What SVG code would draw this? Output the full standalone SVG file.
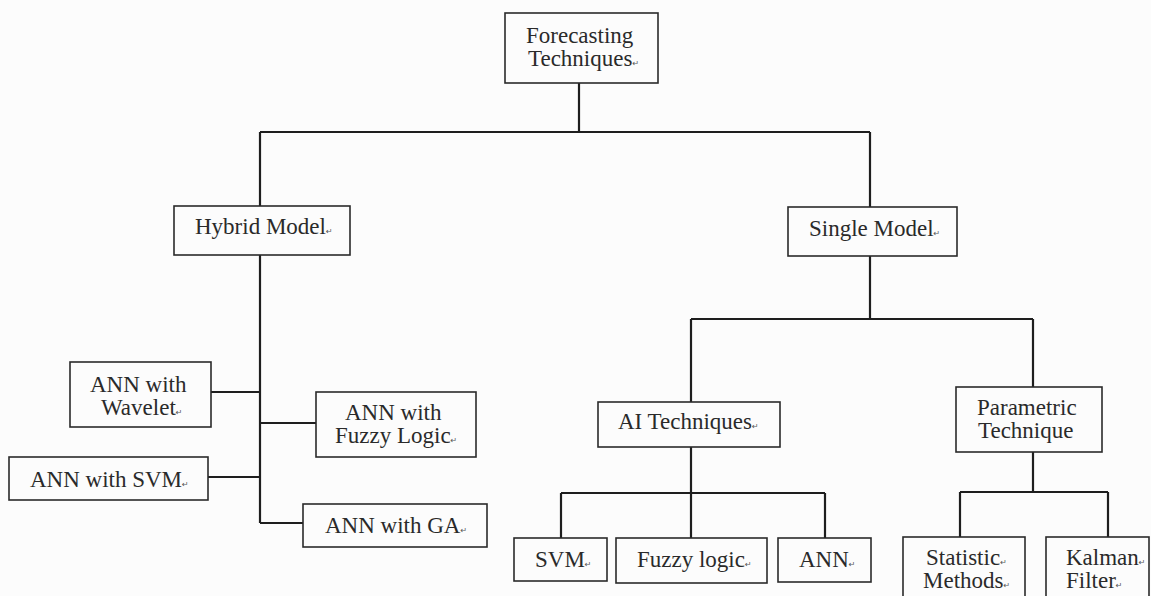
<svg xmlns="http://www.w3.org/2000/svg" width="1151" height="596" viewBox="0 0 1151 596">
<style>
.box{fill:none;stroke:#2a2a2a;stroke-width:1.6}
.t{font-family:"Liberation Serif","Times New Roman",serif;font-size:23px;fill:#2a2a2a}
.rm{font-family:"DejaVu Sans",sans-serif;font-size:8px;fill:#555}
#connectors path{fill:none;stroke:#1e1e1e;stroke-width:2.2}
</style>
<rect width="1151" height="596" fill="#fcfcfc"/>
<g id="connectors">
<path d="M579 83V132M260 132H870M260 132V206M870 132V207"/>
<path d="M260 255V523M211 392H260M260 423H316M208 477H260M260 523H303"/>
<path d="M870 256V319M691 319H1033M691 319V402M1033 319V387"/>
<path d="M691 447V493M561 493H825M561 493V538M691 493V538M825 493V538"/>
<path d="M1033 452V492M960 492H1108M960 492V537M1108 492V537"/>
</g>
<g id="forecasting">
<rect class="box" x="505" y="13" width="153" height="70"/>
<text class="t" x="526" y="43">Forecasting</text>
<text class="t" x="528" y="66">Techniques<tspan class="rm">↵</tspan></text>
</g>
<g id="hybrid">
<rect class="box" x="174" y="206" width="176" height="49"/>
<text class="t" x="195" y="234">Hybrid Model<tspan class="rm">↵</tspan></text>
</g>
<g id="single">
<rect class="box" x="788" y="207" width="169" height="49"/>
<text class="t" x="809" y="236">Single Model<tspan class="rm">↵</tspan></text>
</g>
<g id="ann-wavelet">
<rect class="box" x="70" y="362" width="141" height="65"/>
<text class="t" x="90" y="392">ANN with</text>
<text class="t" x="101" y="415">Wavelet<tspan class="rm">↵</tspan></text>
</g>
<g id="ann-fuzzy">
<rect class="box" x="316" y="392" width="160" height="65"/>
<text class="t" x="345" y="420">ANN with</text>
<text class="t" x="335" y="443">Fuzzy Logic<tspan class="rm">↵</tspan></text>
</g>
<g id="ann-svm">
<rect class="box" x="9" y="457" width="199" height="43"/>
<text class="t" x="30" y="487">ANN with SVM<tspan class="rm">↵</tspan></text>
</g>
<g id="ann-ga">
<rect class="box" x="303" y="504" width="184" height="43"/>
<text class="t" x="325" y="533">ANN with GA<tspan class="rm">↵</tspan></text>
</g>
<g id="ai">
<rect class="box" x="598" y="402" width="182" height="45"/>
<text class="t" x="618" y="429">AI Techniques<tspan class="rm">↵</tspan></text>
</g>
<g id="parametric">
<rect class="box" x="956" y="387" width="146" height="65"/>
<text class="t" x="977" y="415">Parametric</text>
<text class="t" x="978" y="438">Technique</text>
</g>
<g id="svm">
<rect class="box" x="514" y="538" width="93" height="43"/>
<text class="t" x="535" y="567">SVM<tspan class="rm">↵</tspan></text>
</g>
<g id="fuzzy">
<rect class="box" x="616" y="538" width="151" height="45"/>
<text class="t" x="637" y="567">Fuzzy logic<tspan class="rm">↵</tspan></text>
</g>
<g id="ann">
<rect class="box" x="778" y="538" width="93" height="44"/>
<text class="t" x="799" y="567">ANN<tspan class="rm">↵</tspan></text>
</g>
<g id="statistic">
<rect class="box" x="903" y="537" width="122" height="64"/>
<text class="t" x="926" y="565">Statistic<tspan class="rm">↵</tspan></text>
<text class="t" x="923" y="588">Methods<tspan class="rm">↵</tspan></text>
</g>
<g id="kalman">
<rect class="box" x="1046" y="537" width="103" height="64"/>
<text class="t" x="1066" y="565">Kalman<tspan class="rm">↵</tspan></text>
<text class="t" x="1066" y="588">Filter<tspan class="rm">↵</tspan></text>
</g>
</svg>
